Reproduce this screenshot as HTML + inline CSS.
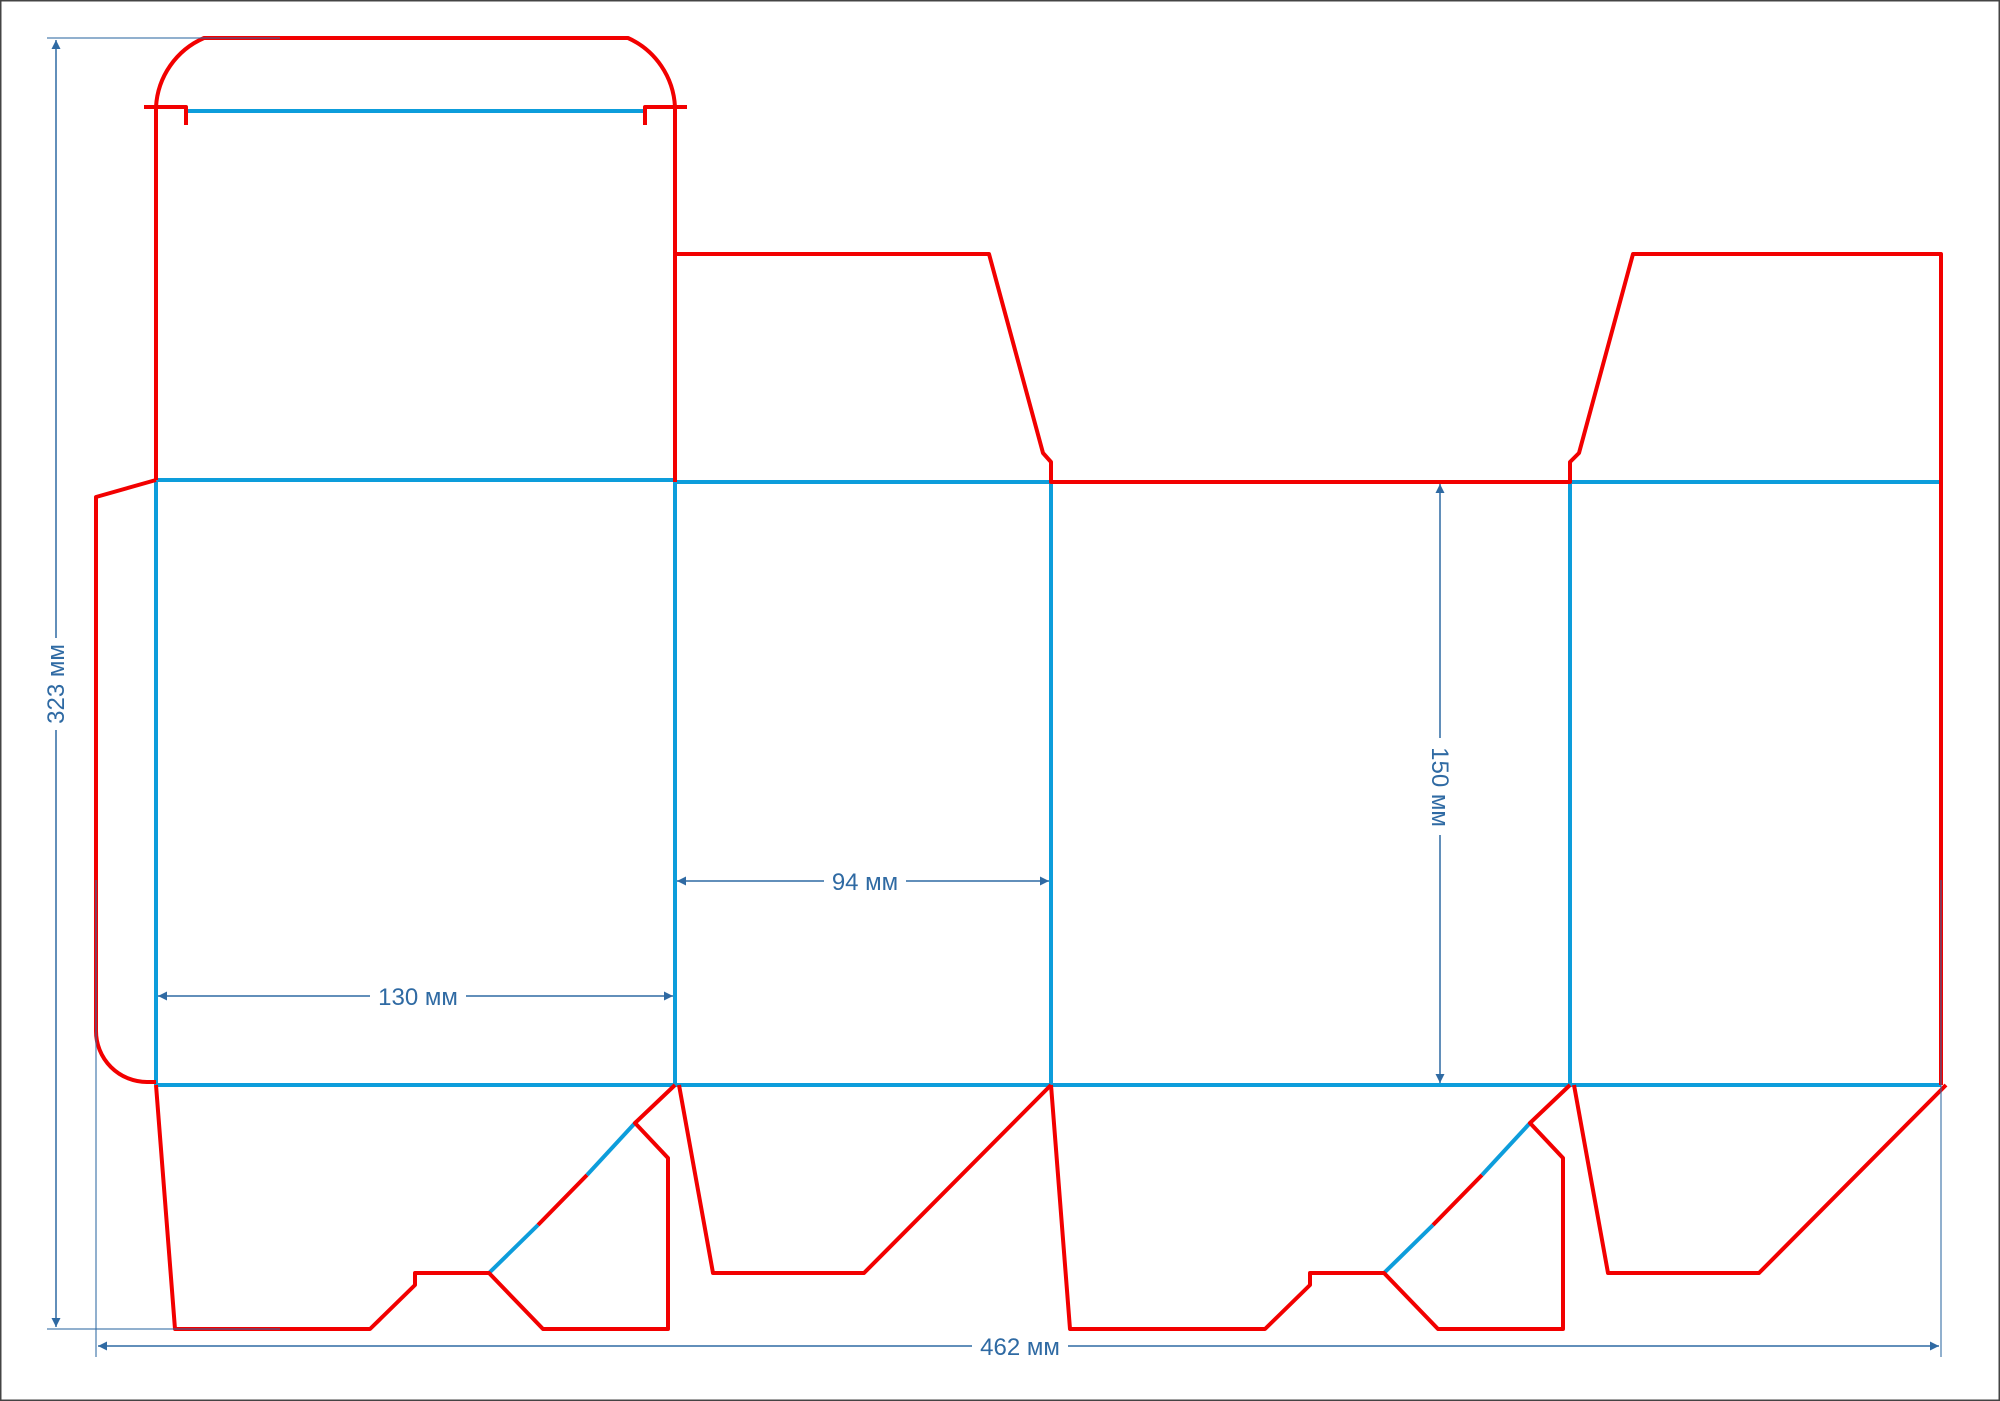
<!DOCTYPE html>
<html><head><meta charset="utf-8"><style>
html,body{margin:0;padding:0;background:#fff}
svg{display:block}
text{font-family:"Liberation Sans",sans-serif;font-size:24px;fill:#2f6aa3}
</style></head><body>
<svg width="2000" height="1401" viewBox="0 0 2000 1401" xmlns="http://www.w3.org/2000/svg">
<defs>
<marker id="a" viewBox="0 0 10 10" refX="10" refY="5" markerWidth="16" markerHeight="9" markerUnits="userSpaceOnUse" orient="auto-start-reverse"><path d="M0,0L10,5L0,10z" fill="#2f6aa3"/></marker>
</defs>
<rect x="0.5" y="0.5" width="1999" height="1400" fill="#fff" stroke="#444" stroke-width="2"/>
<g fill="none" stroke-linejoin="round" stroke-linecap="butt">
<g stroke="#0d9ddb" stroke-width="4">
<line x1="186" y1="111" x2="645" y2="111"/>
<line x1="156" y1="480" x2="675" y2="480"/>
<line x1="675" y1="482" x2="1051" y2="482"/>
<line x1="1570" y1="482" x2="1941" y2="482"/>
<line x1="156" y1="1085" x2="1941" y2="1085"/>
<line x1="156" y1="480" x2="156" y2="1085"/>
<line x1="675" y1="482" x2="675" y2="1085"/>
<line x1="1051" y1="482" x2="1051" y2="1085"/>
<line x1="1570" y1="482" x2="1570" y2="1085"/>
<line x1="489" y1="1273" x2="538" y2="1225"/>
<line x1="587" y1="1175" x2="635" y2="1123"/>
<line x1="1384" y1="1273" x2="1433" y2="1225"/>
<line x1="1482" y1="1175" x2="1530" y2="1123"/>
</g>
<g stroke="#f20000" stroke-width="4">
<path d="M156,480 L156,107 A80,80 0 0 1 204,38 L628,38 A80,80 0 0 1 675,107 L675,482"/>
<path d="M144,107 L186,107 L186,125"/>
<path d="M687,107 L645,107 L645,125"/>
<path d="M675,254 L989,254 L1043,453 L1051,462 L1051,482 L1570,482 L1570,462 L1579,453 L1633,254 L1941,254 L1941,1085"/>
<path d="M156,480 L96,497 L96,1031 A51,51 0 0 0 147,1082 L156,1082"/>
<g id="bot">
<path d="M156,1085 L175,1329 L370,1329 L415,1285 L415,1273 L489,1273 L543,1329 L668,1329 L668,1158 L635,1123 L675,1085"/>
<line x1="538" y1="1225" x2="587" y2="1175"/>
<path d="M679,1085 L713,1273 L864,1273 L1051,1085"/>
</g>
<use href="#bot" transform="translate(895,0)"/>
</g>
</g>
<g stroke="#2f6aa3" stroke-width="1.5" fill="none">
<line x1="47" y1="38" x2="280" y2="38" stroke-opacity="0.7"/>
<line x1="47" y1="1329" x2="280" y2="1329" stroke-opacity="0.7"/>
<line x1="96" y1="880" x2="96" y2="1357" stroke-opacity="0.7"/>
<line x1="1941" y1="880" x2="1941" y2="1357" stroke-opacity="0.7"/>
<line x1="56" y1="40" x2="56" y2="638" marker-start="url(#a)"/>
<line x1="56" y1="730" x2="56" y2="1327" marker-end="url(#a)"/>
<line x1="98" y1="1346" x2="972" y2="1346" marker-start="url(#a)"/>
<line x1="1068" y1="1346" x2="1939" y2="1346" marker-end="url(#a)"/>
<line x1="158" y1="996" x2="370" y2="996" marker-start="url(#a)"/>
<line x1="466" y1="996" x2="673" y2="996" marker-end="url(#a)"/>
<line x1="677" y1="881" x2="824" y2="881" marker-start="url(#a)"/>
<line x1="906" y1="881" x2="1049" y2="881" marker-end="url(#a)"/>
<line x1="1440" y1="484" x2="1440" y2="738" marker-start="url(#a)"/>
<line x1="1440" y1="835" x2="1440" y2="1083" marker-end="url(#a)"/>
</g>
<text x="0" y="0" text-anchor="middle" transform="translate(64,684) rotate(-90)">323 мм</text>
<text x="1020" y="1355" text-anchor="middle">462 мм</text>
<text x="418" y="1005" text-anchor="middle">130 мм</text>
<text x="865" y="890" text-anchor="middle">94 мм</text>
<text x="0" y="0" text-anchor="middle" transform="translate(1432,787) rotate(90)">150 мм</text>
</svg>
</body></html>
